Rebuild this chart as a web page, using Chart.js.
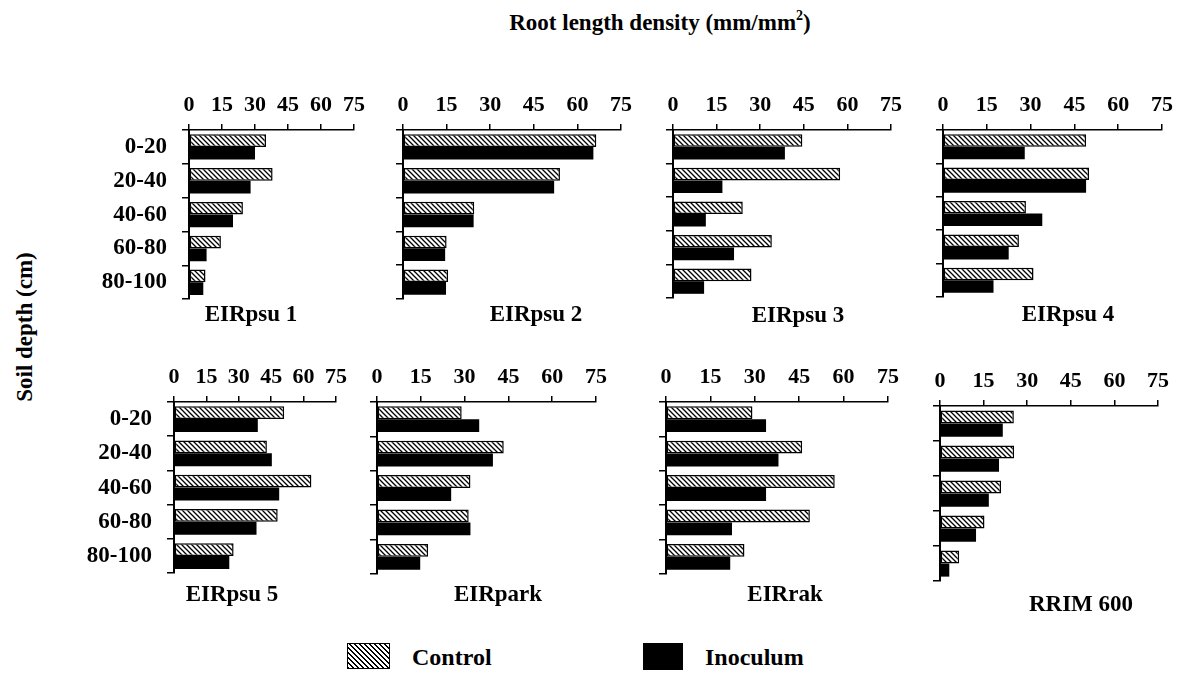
<!DOCTYPE html>
<html>
<head>
<meta charset="utf-8">
<script src="https://cdn.jsdelivr.net/npm/chart.js@4.4.1/dist/chart.umd.min.js"></script>
<style>
  body { margin: 0; width: 1184px; height: 675px; background: #fff; position: relative; overflow: hidden;
    font-family: "Liberation Serif", "Times New Roman", serif; font-weight: bold; color: #000; }
  .txt { position: absolute; white-space: nowrap; font-size: 23px; line-height: 1; transform: translate(-50%, -50%); }
  .lbl { position: absolute; white-space: nowrap; font-size: 24px; line-height: 1; transform: translateY(-50%); }
  canvas { position: absolute; }
  sup { font-size: 14px; position: relative; top: -2px; vertical-align: top; }
</style>
</head>
<body>
<div class="txt" style="left:660px; top:22px;">Root length density (mm/mm<sup>2</sup>)</div>
<div class="txt" style="left:24px; top:327px; transform:translate(-50%,-50%) rotate(-90deg);">Soil depth (cm)</div>

<div style="position:absolute; left:347px; top:643px; width:41px; height:24px; border:1.5px solid #000;
  background:repeating-linear-gradient(45deg, #000 0px, #000 1.2px, #fff 1.2px, #fff 3.5px);"></div>
<div class="lbl" style="left:412px; top:657px;">Control</div>
<div style="position:absolute; left:643px; top:643px; width:40px; height:27px; background:#000;"></div>
<div class="lbl" style="left:705px; top:657px;">Inoculum</div>

<script>
// soil depth classes and the value axis ticks
const depths = ["0-20", "20-40", "40-60", "60-80", "80-100"];
const xTicks = [0, 15, 30, 45, 60, 75];
const clones = ["EIRpsu 1", "EIRpsu 2", "EIRpsu 3", "EIRpsu 4", "EIRpsu 5", "EIRpark", "EIRrak", "RRIM 600"];

// root length density, control vs inoculum, per clone
const controlPsu1 = [35, 38, 24.5, 14.5, 7.5];
const inoculumPsu1 = [30, 28, 20, 8, 6.5];
const controlPsu2 = [66.5, 54, 24.5, 15, 15.5];
const inoculumPsu2 = [65.5, 52, 24.3, 14.5, 14.8];
const controlPsu3 = [44.5, 57.5, 24, 34, 27];
const inoculumPsu3 = [38.5, 17, 11.3, 21, 10.7];
const controlPsu4 = [49, 50, 28.4, 26, 31];
const inoculumPsu4 = [28, 49, 34, 22.5, 17.3];
const controlPsu5 = [51, 43, 63.6, 48, 27.6];
const inoculumPsu5 = [38.8, 45.3, 48.7, 38.2, 25.6];
const controlPark = [29, 43.4, 32, 31.4, 17.5];
const inoculumPark = [35, 39.7, 25.4, 32, 14.8];
const controlRak = [29.2, 46, 57, 48.6, 26.5];
const inoculumRak = [33.8, 38, 33.8, 22.3, 21.7];
const controlRrim = [25.4, 25.5, 21, 15.3, 6.6];
const inoculumRrim = [21.6, 20.3, 16.8, 12.4, 3.2];

const controlSets = [controlPsu1, controlPsu2, controlPsu3, controlPsu4, controlPsu5, controlPark, controlRak, controlRrim];
const inoculumSets = [inoculumPsu1, inoculumPsu2, inoculumPsu3, inoculumPsu4, inoculumPsu5, inoculumPark, inoculumRak, inoculumRrim];

// where each small panel sits on the page (x of 0 and 75, top/bottom of the y axis, name position)
const panels = [
  { x0: 189, x75: 354, top: 130, bottom: 308, labels: true,  nx: 251, ny: 313 },
  { x0: 403, x75: 621, top: 130, bottom: 299, labels: false, nx: 536, ny: 313 },
  { x0: 673, x75: 891, top: 130, bottom: 298, labels: false, nx: 798, ny: 314 },
  { x0: 943, x75: 1162, top: 130, bottom: 297, labels: false, nx: 1068, ny: 313 },
  { x0: 174, x75: 336, top: 402, bottom: 582, labels: true,  nx: 232, ny: 593 },
  { x0: 377, x75: 596, top: 402, bottom: 574, labels: false, nx: 498, ny: 593 },
  { x0: 666, x75: 888, top: 402, bottom: 574, labels: false, nx: 785, ny: 593 },
  { x0: 940, x75: 1158, top: 406, bottom: 581, labels: false, nx: 1081, ny: 603 }
];

Chart.defaults.font.family = "'Liberation Serif', 'Times New Roman', serif";
Chart.defaults.font.weight = "bold";
Chart.defaults.font.size = 22;
Chart.defaults.color = "#000";

// diagonal hatch for the control bars
const hatchCanvas = document.createElement("canvas");
hatchCanvas.width = 5;
hatchCanvas.height = 5;
const hctx = hatchCanvas.getContext("2d");
hctx.fillStyle = "#fff";
hctx.fillRect(0, 0, 5, 5);
hctx.strokeStyle = "#000";
hctx.lineWidth = 1.3;
hctx.beginPath();
hctx.moveTo(-1, -1); hctx.lineTo(6, 6);
hctx.moveTo(-1, 4); hctx.lineTo(1, 6);
hctx.moveTo(4, -1); hctx.lineTo(6, 1);
hctx.stroke();
const hatch = hctx.createPattern(hatchCanvas, "repeat");

panels.forEach((p, i) => {
  const yW = p.labels ? 100 : 20;
  const xH = 45;
  const padR = 20, padB = 20;

  const cv = document.createElement("canvas");
  cv.width = yW + (p.x75 - p.x0) + padR;
  cv.height = xH + (p.bottom - p.top) + padB;
  cv.style.left = (p.x0 - yW) + "px";
  cv.style.top = (p.top - xH) + "px";
  document.body.appendChild(cv);

  const name = document.createElement("div");
  name.className = "txt";
  name.style.left = p.nx + "px";
  name.style.top = p.ny + "px";
  name.textContent = clones[i];
  document.body.appendChild(name);

  new Chart(cv, {
    type: "bar",
    data: {
      labels: depths,
      datasets: [
        {
          label: "Control",
          data: controlSets[i],
          backgroundColor: hatch,
          borderColor: "#000",
          borderWidth: 1.5,
          borderSkipped: false,
          categoryPercentage: 0.75,
          barPercentage: 1.0
        },
        {
          label: "Inoculum",
          data: inoculumSets[i],
          backgroundColor: "#000",
          borderWidth: 0,
          categoryPercentage: 0.75,
          barPercentage: 1.0
        }
      ]
    },
    options: {
      indexAxis: "y",
      responsive: false,
      animation: false,
      layout: { padding: { left: 0, top: 0, right: padR, bottom: padB } },
      plugins: { legend: { display: false }, tooltip: { enabled: false } },
      scales: {
        x: {
          position: "top",
          min: 0,
          max: 75,
          afterBuildTicks: (s) => { s.ticks = xTicks.map(v => ({ value: v })); },
          afterFit: (s) => { s.height = xH; },
          grid: { drawOnChartArea: false, drawTicks: true, tickLength: 6, color: "#000", lineWidth: 1.5 },
          border: { display: true, color: "#000", width: 1.5 },
          ticks: { autoSkip: false, maxRotation: 0, padding: 5 }
        },
        y: {
          afterFit: (s) => { s.width = yW; },
          grid: { drawOnChartArea: false, drawTicks: true, tickLength: 7, color: "#000", lineWidth: 1.5 },
          border: { display: true, color: "#000", width: 2 },
          ticks: { display: p.labels, padding: 15, font: { size: 23 } }
        }
      }
    }
  });
});
</script>
</body>
</html>
